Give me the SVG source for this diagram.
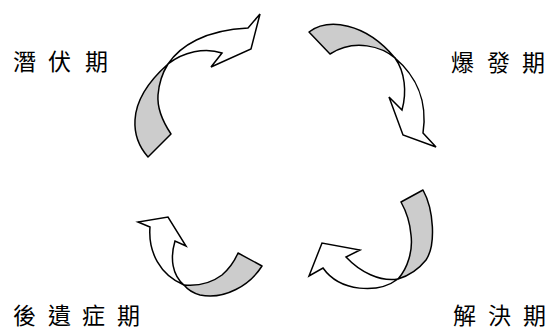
<svg xmlns="http://www.w3.org/2000/svg" width="552" height="331" viewBox="0 0 552 331">
<style>
.back{fill:#cccccc;stroke:#000;stroke-width:1.5;stroke-linejoin:round}
.front{fill:#fff;stroke:#000;stroke-width:1.5;stroke-linejoin:miter}
.lbl{font-family:"Noto Sans CJK TC","Noto Sans CJK SC",sans-serif;font-size:23px;fill:#000}
</style>
<rect width="552" height="331" fill="#fff"/>
<g id="connectors">
<g id="arrow1">
<path class="back" d="M168,64 C150,80 136,100 135,120 C134,137 141,149 148,157 L171,134 C163,122 157,108 158,95 C159,82 163,72 168,64 Z"/>
<path class="front" d="M168,64 C180,46 205,30 248,28 L260,14 L251,49 L211,67 L222,53 C205,47 183,52 168,64 Z"/>
</g>
<g id="arrow2">
<path class="back" d="M309,32 C328,18 365,22 395,58 C382,47 355,38 330,54 Z"/>
<path class="front" d="M395,58 C415,75 428,100 423,133 L436,147 L403,135 L389,97 L402,110 C407,92 405,72 395,58 Z"/>
</g>
<g id="arrow3">
<path class="back" d="M401,202 L423,190 C434,210 436,245 426,260 C418,270 408,276 398,279 C408,268 413,250 411,235 C410,222 406,211 401,202 Z"/>
<path class="front" d="M398,279 C378,294 340,292 323,268 L309,276 L322,243 L360,250 L346,257 C360,272 380,282 398,279 Z"/>
</g>
<g id="arrow4">
<path class="back" d="M238,253 L262,266 C250,285 225,300 200,295 C193,293 188,290 184,285 C195,286 210,284 222,275 C230,268 235,260 238,253 Z"/>
<path class="front" d="M184,285 C160,275 148,252 150,227 L138,222 L168,217 L186,246 L175,241 C170,258 172,275 184,285 Z"/>
</g>
</g>
<g id="node-latent"><text class="lbl" x="13 48 85" y="70">潛伏期</text></g>
<g id="node-outbreak"><text class="lbl" x="451 487 522" y="71">爆發期</text></g>
<g id="node-sequelae"><text class="lbl" x="13 48 82 117" y="324">後遺症期</text></g>
<g id="node-resolution"><text class="lbl" x="453 488 523" y="324">解決期</text></g>
</svg>
